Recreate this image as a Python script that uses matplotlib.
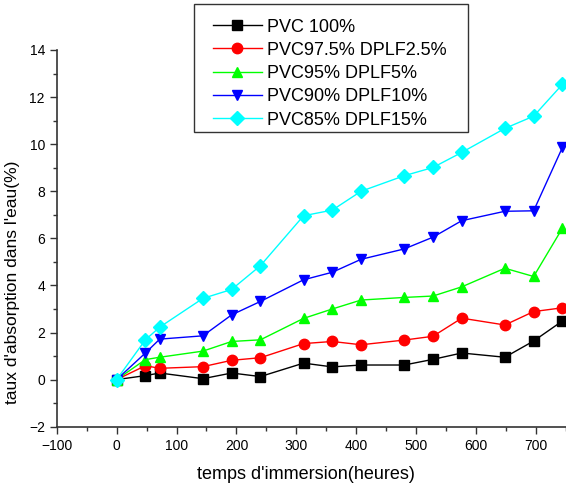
import matplotlib
matplotlib.use("Agg")
import matplotlib.pyplot as plt
from matplotlib.ticker import MultipleLocator
from matplotlib.patches import Rectangle

plt.rcParams['font.family'] = ['Liberation Sans', 'DejaVu Sans']

hours = [0, 48, 72, 144, 192, 240, 312, 360, 408, 480, 528, 576, 648, 696, 744]
pvc100 = [0, 0.17, 0.28, 0.04, 0.28, 0.13, 0.70, 0.54, 0.62, 0.62, 0.86, 1.13, 0.95, 1.64, 2.49]
dplf2_5 = [0, 0.59, 0.48, 0.55, 0.82, 0.93, 1.53, 1.62, 1.48, 1.68, 1.84, 2.61, 2.32, 2.89, 3.05]
dplf5 = [0, 0.85, 0.95, 1.21, 1.62, 1.69, 2.60, 3.00, 3.38, 3.49, 3.55, 3.94, 4.73, 4.38, 6.43]
dplf10 = [0, 1.13, 1.72, 1.86, 2.75, 3.32, 4.24, 4.56, 5.11, 5.55, 6.05, 6.75, 7.15, 7.17, 9.86]
dplf15 = [0, 1.69, 2.23, 3.45, 3.83, 4.84, 6.96, 7.20, 8.00, 8.66, 9.01, 9.65, 10.67, 11.19, 12.54]

labels = ["PVC 100%", "PVC97.5% DPLF2.5%", "PVC95% DPLF5%", "PVC90% DPLF10%", "PVC85% DPLF15%"]
series = [pvc100, dplf2_5, dplf5, dplf10, dplf15]
colors = ["black", "red", "#00ff00", "blue", "cyan"]
markers = ["s", "o", "^", "v", "D"]
msizes = [6.5, 7.5, 7.5, 7.5, 7]

W, H = 566, 490
fig = plt.figure(figsize=(W/100, H/100), dpi=100)
ax = fig.add_axes([56.7/W, 63.3/H, (W-56.7)/W, (426.7-50)/H])

handles = []
for y, c, m, ms, lab in zip(series, colors, markers, msizes, labels):
    h, = ax.plot(hours, y, color=c, marker=m, markersize=ms, linewidth=1.0,
                 markeredgecolor=c, label=lab, clip_on=False)
    handles.append(h)

ax.set_xlim(-100, 750)
ax.set_ylim(-2, 14)
ax.xaxis.set_major_locator(MultipleLocator(100))
ax.xaxis.set_minor_locator(MultipleLocator(50))
ax.yaxis.set_major_locator(MultipleLocator(2))
ax.yaxis.set_minor_locator(MultipleLocator(1))
for s in ['top', 'right']:
    ax.spines[s].set_visible(False)
for s in ['left', 'bottom']:
    ax.spines[s].set_color('#333333')
    ax.spines[s].set_linewidth(1.2)
ax.tick_params(which='major', direction='out', length=5, width=1.0, color='#333333', labelsize=10)
ax.tick_params(which='minor', direction='out', length=3, width=1.0, color='#333333')

ax.set_xlabel("temps d'immersion(heures)", fontsize=13)
ax.xaxis.set_label_coords(0.49, -0.105)
ax.set_ylabel("taux d'absorption dans l'eau(%)", fontsize=12.5)
ax.yaxis.set_label_coords(-0.072, 0.384)

# legend frame drawn in figure pixels
frame = Rectangle((194/W, 1 - 132/H), (468-194)/W, (132-4)/H, transform=fig.transFigure,
                  facecolor='white', edgecolor='#333333', linewidth=1.0, zorder=5)
fig.patches.append(frame)
leg = fig.legend(handles=handles, loc='upper left', bbox_to_anchor=(213/W, 1 - 18.5/H),
                 bbox_transform=fig.transFigure, fontsize=13, frameon=False,
                 handlelength=2.7, labelspacing=0.35, borderpad=0, handletextpad=0.3,
                 borderaxespad=0)
leg.set_zorder(6)

fig.savefig("out.png", dpi=100)
